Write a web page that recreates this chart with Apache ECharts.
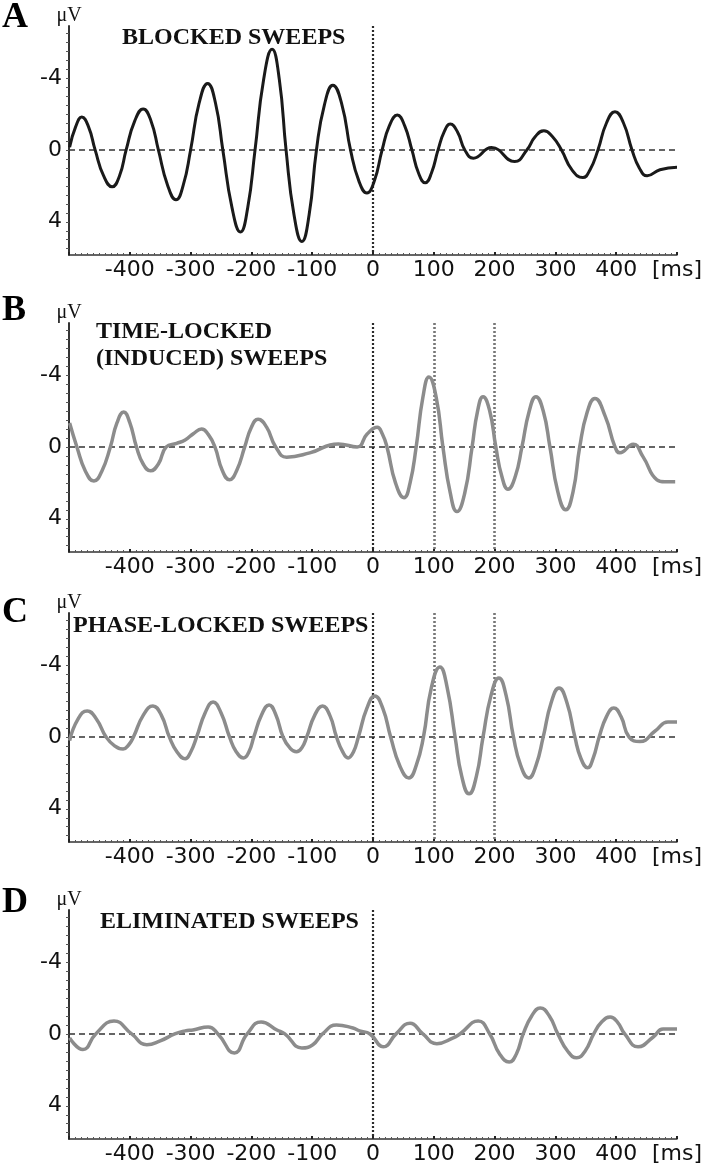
<!DOCTYPE html>
<html><head><meta charset="utf-8">
<script src="https://cdn.jsdelivr.net/npm/echarts@6/dist/echarts.min.js"></script>
<style>html,body{margin:0;padding:0;background:#fff}#c{width:708px;height:1169px}</style>
</head><body><div id="c"></div><script>
// ---- data ----
const xTickLabels = [-400, -300, -200, -100, 0, 100, 200, 300, 400];
const yTickLabels = [-4, 0, 4];
const yMinorTicks = [-6.5,-6,-5.5,-5,-4.5,-4,-3.5,-3,-2.5,-2,-1.5,-1,-0.5,0,0.5,1,1.5,2,2.5,3,3.5,4,4.5,5,5.5];
const panelLetters = ['A', 'B', 'C', 'D'];
const panelTitles = ['BLOCKED SWEEPS', 'TIME-LOCKED\n(INDUCED) SWEEPS', 'PHASE-LOCKED SWEEPS', 'ELIMINATED SWEEPS'];
const markerTimes = [[0], [0, 100, 200], [0, 100, 200], [0]];

const timesA = [-499,-489,-479,-468,-457,-443,-429,-417,-406,-392,-378,-365,-353,-338,-324,-312,-300,-286,-272,-259,-247,-232,-218,-206,-194,-180,-166,-154,-143,-130,-117,-105,-93,-80,-66,-51,-37,-23,-10,2,15,27,40,52,64,75,86,96,107,117,127,139,151,165,195,233,253,267,281,295,310,327,345,357,370,384,398,412,426,438,451,472,500];
const valuesA = [-0.15,-1.3,-1.83,-1.3,0,1.45,2.05,1.45,0,-1.6,-2.28,-1.6,0,1.95,2.78,1.95,0,-2.6,-3.7,-2.6,0,3.2,4.57,3.2,0,-3.9,-5.6,-3.9,0,3.6,5.1,3.6,0,-2.5,-3.6,-2.5,0,1.75,2.4,1.75,0,-1.35,-1.94,-1.35,0,1.3,1.83,1.3,0,-1.0,-1.44,-1.0,0,0.46,-0.13,0.65,0,-0.75,-1.07,-0.75,0,1.1,1.54,1.1,0,-1.5,-2.13,-1.5,0,1.0,1.44,1.1,0.96];

const timesB = [-499,-487,-473,-459,-446,-432,-421,-410,-400,-389,-378,-366,-353,-340,-323,-309,-295,-282,-271,-260,-248,-236,-224,-211,-200,-189,-175,-160,-142,-104,-57,-26,-10,7,15,23,37,51,61,71,82,92,104,115,127,138,151,163,172,181,192,202,212,222,234,245,257,268,280,291,304,317,329,340,352,365,382,398,406,428,444,467,480,497];
const valuesB = [-1.33,0,1.35,1.9,1.35,0,-1.35,-1.94,-1.35,0,0.95,1.33,0.95,0,-0.2,-0.39,-0.75,-1.0,-0.7,0,1.3,1.83,1.3,0,-1.1,-1.54,-1.1,0,0.57,0.33,-0.17,0,-0.7,-1.1,-0.75,0,2.0,2.83,2.0,0,-2.75,-3.9,-2.75,0,2.55,3.6,2.55,0,-2.0,-2.8,-2.0,0,1.65,2.35,1.65,0,-2.0,-2.8,-2.0,0,2.5,3.5,2.5,0,-1.9,-2.7,-1.7,0,0.33,-0.15,0.54,1.83,1.94,1.94];

const timesC = [-499,-485,-470,-455,-439,-425,-411,-402,-394,-378,-362,-348,-335,-322,-309,-300,-290,-276,-263,-250,-236,-225,-213,-204,-196,-183,-171,-160,-148,-137,-126,-117,-109,-96,-83,-71,-60,-50,-41,-32,-24,-10,3,16,29,44,59,71,83,96,110,122,135,146,158,170,181,194,207,219,231,243,256,268,280,293,306,319,332,342,353,362,372,384,396,408,421,439,464,485,500];
const valuesC = [0.2,-1.0,-1.45,-1.0,0,0.5,0.67,0.45,0,-1.2,-1.72,-1.2,0,0.85,1.22,0.85,0,-1.35,-1.94,-1.35,0,0.82,1.17,0.82,0,-1.25,-1.78,-1.25,0,0.6,0.83,0.6,0,-1.2,-1.72,-1.2,0,0.82,1.17,0.82,0,-1.6,-2.28,-1.6,0,1.6,2.28,1.6,0,-2.75,-3.9,-2.75,0,2.2,3.17,2.2,0,-2.3,-3.28,-2.3,0,1.6,2.28,1.6,0,-1.9,-2.72,-1.9,0,1.2,1.72,1.2,0,-1.13,-1.61,-1.13,0,0.26,-0.33,-0.83,-0.83];

const timesD = [-499,-477,-456,-426,-397,-372,-350,-326,-309,-296,-271,-255,-228,-207,-184,-158,-145,-117,-99,-83,-60,-33,-22,-5,17,38,61,82,105,132,143,173,192,208,224,236,247,261,275,290,304,320,335,349,363,376,390,402,414,436,461,477,500];
const valuesD = [0.22,0.87,0,-0.72,0,0.6,0.39,0,-0.17,-0.22,-0.39,0,1.06,0,-0.67,-0.22,0,0.78,0.6,0,-0.5,-0.33,-0.17,0,0.72,0,-0.6,0,0.54,0.22,0,-0.72,0,1.1,1.56,1.1,0,-1.0,-1.44,-1.0,0,0.95,1.33,0.95,0,-0.66,-0.94,-0.66,0,0.72,0.17,-0.28,-0.28];

const panelTimes = [timesA, timesB, timesC, timesD];
const panelValues = [valuesA, valuesB, valuesC, valuesD];

// ---- layout / style ----
const gridTops = [26, 323, 613, 910];
const gridH = 229;
const letterTops = [0, 293, 595, 885];
const titlePos = [[122, 24], [96, 318], [73, 612], [100, 908]];
const lineColors = ['#1a1a1a', '#8c8c8c', '#8c8c8c', '#8c8c8c'];
const lineWidths = [3, 3.5, 3.5, 3.5];
const serif = 'Liberation Serif';
const sans = 'DejaVu Sans';

const grids = [], xAxes = [], yAxes = [], series = [], titles = [];
for (let i = 0; i < 4; i++) {
  grids.push({ left: 69, width: 608, top: gridTops[i], height: gridH });
  xAxes.push({
    type: 'value', gridIndex: i, min: -500, max: 500, interval: 100,
    axisLine: { show: true, onZero: false, lineStyle: { color: '#333', width: 1.5 } },
    axisTick: { show: true, inside: true, length: 3, lineStyle: { color: '#222', width: 2 } },
    minorTick: { show: true, splitNumber: 10, length: 2, lineStyle: { color: '#555', width: 1 } },
    splitLine: { show: false }, minorSplitLine: { show: false },
    axisLabel: {
      customValues: xTickLabels.concat([500]),
      formatter: v => (v === 500 ? '[ms]' : String(v)),
      fontFamily: sans, fontSize: 22, color: '#111', margin: 4
    }
  });
  yAxes.push({
    type: 'value', gridIndex: i, inverse: true, min: -6.9, max: 5.85,
    axisLine: { show: true, onZero: false, lineStyle: { color: '#333', width: 2 } },
    axisTick: { show: true, customValues: yMinorTicks, length: 3, lineStyle: { color: '#555', width: 1 } },
    splitLine: { show: false },
    axisLabel: {
      customValues: yTickLabels, fontFamily: sans, fontSize: 22, color: '#111',
      margin: 7, padding: [0, 0, 10, 0]
    },
    name: 'μV', nameLocation: 'start', nameGap: 0,
    nameTextStyle: { fontFamily: serif, fontSize: 20, color: '#111', align: 'center', verticalAlign: 'bottom' }
  });
  const mlData = [{ yAxis: 0, lineStyle: { type: [6, 4], color: '#333', width: 1.5 } }];
  markerTimes[i].forEach(t => {
    mlData.push({ xAxis: t, lineStyle: { type: [2, 2], color: t === 0 ? '#2a2a2a' : '#777', width: t === 0 ? 2.2 : 2.6 } });
  });
  series.push({
    type: 'line', xAxisIndex: i, yAxisIndex: i,
    data: panelTimes[i].map((t, k) => [t, panelValues[i][k]]),
    smooth: 0.5, showSymbol: false, symbol: 'none',
    lineStyle: { color: lineColors[i], width: lineWidths[i] },
    z: 3,
    markLine: { silent: true, symbol: 'none', label: { show: false }, data: mlData, z: 2 }
  });
  titles.push({
    text: panelLetters[i], left: 2, top: letterTops[i], padding: 0,
    textStyle: { fontFamily: serif, fontWeight: 'bold', fontSize: 36, color: '#000' }
  });
  titles.push({
    text: panelTitles[i], left: titlePos[i][0], top: titlePos[i][1], padding: 0,
    textStyle: { fontFamily: serif, fontWeight: 'bold', fontSize: 24, lineHeight: 27, color: '#111' }
  });
}

const chart = echarts.init(document.getElementById('c'), null, { renderer: 'canvas' });
chart.setOption({
  animation: false,
  backgroundColor: '#fff',
  title: titles,
  grid: grids,
  xAxis: xAxes,
  yAxis: yAxes,
  series: series
});
</script></body></html>
